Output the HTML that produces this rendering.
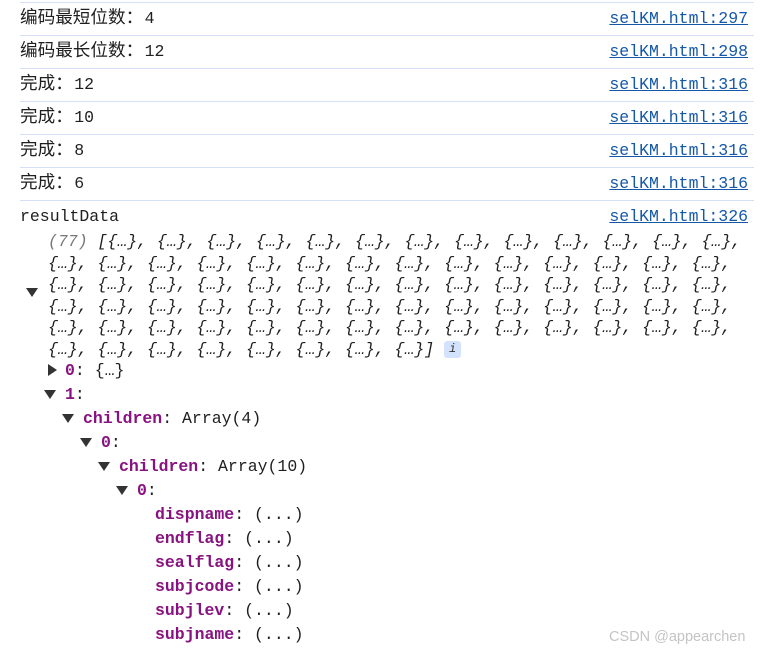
<!DOCTYPE html>
<html><head><meta charset="utf-8"><style>
body{margin:0;width:771px;height:650px;background:#fff;position:relative;overflow:hidden;font-family:"Liberation Mono","Noto Sans CJK SC",monospace;font-size:16.5px;color:#1f1f1f}
.a{position:absolute;white-space:pre;line-height:20px}
.ln{position:absolute;left:20px;width:734px;height:1px;background:#d3e0f5}
.lk{position:absolute;right:23px;color:#1558a8;text-decoration:underline;white-space:pre;line-height:20px}
.z{font-size:17.6px}
.c{display:inline-block;width:19px}
.arr{font-style:italic}
.g{color:#777}
.k{color:#881280;font-weight:bold}
.t{position:absolute;width:0;height:0;border-left:6px solid transparent;border-right:6px solid transparent;border-top:9px solid #333}
.r{position:absolute;width:0;height:0;border-top:6px solid transparent;border-bottom:6px solid transparent;border-left:9px solid #333}
.i{display:inline-block;width:17px;height:17px;background:#d3e3fd;border-radius:3px;font-size:12px;line-height:17px;text-align:center;font-style:italic;vertical-align:middle;color:#333}
</style></head><body>
<div class="ln" style="top:2px"></div>
<div class="ln" style="top:35px"></div>
<div class="ln" style="top:68px"></div>
<div class="ln" style="top:101px"></div>
<div class="ln" style="top:134px"></div>
<div class="ln" style="top:167px"></div>
<div class="ln" style="top:200px"></div>
<div class="a" style="left:20px;top:9px"><span class="z">编码最短位数<span class="c">：</span></span>4</div>
<div class="a" style="left:20px;top:42px"><span class="z">编码最长位数<span class="c">：</span></span>12</div>
<div class="a" style="left:20px;top:75px"><span class="z">完成<span class="c">：</span></span>12</div>
<div class="a" style="left:20px;top:108px"><span class="z">完成<span class="c">：</span></span>10</div>
<div class="a" style="left:20px;top:141px"><span class="z">完成<span class="c">：</span></span>8</div>
<div class="a" style="left:20px;top:174px"><span class="z">完成<span class="c">：</span></span>6</div>
<div class="a" style="left:20px;top:207px">resultData</div>
<div class="lk" style="top:9px">selKM.html:297</div>
<div class="lk" style="top:42px">selKM.html:298</div>
<div class="lk" style="top:75px">selKM.html:316</div>
<div class="lk" style="top:108px">selKM.html:316</div>
<div class="lk" style="top:141px">selKM.html:316</div>
<div class="lk" style="top:174px">selKM.html:316</div>
<div class="lk" style="top:207px">selKM.html:326</div>
<div class="t" style="left:26px;top:288px"></div>
<div class="a arr" style="left:48px;top:231px;line-height:21.6px"><span class="g">(77)</span> [{…}, {…}, {…}, {…}, {…}, {…}, {…}, {…}, {…}, {…}, {…}, {…}, {…},
{…}, {…}, {…}, {…}, {…}, {…}, {…}, {…}, {…}, {…}, {…}, {…}, {…}, {…},
{…}, {…}, {…}, {…}, {…}, {…}, {…}, {…}, {…}, {…}, {…}, {…}, {…}, {…},
{…}, {…}, {…}, {…}, {…}, {…}, {…}, {…}, {…}, {…}, {…}, {…}, {…}, {…},
{…}, {…}, {…}, {…}, {…}, {…}, {…}, {…}, {…}, {…}, {…}, {…}, {…}, {…},
{…}, {…}, {…}, {…}, {…}, {…}, {…}, {…}] <span class="i">i</span></div>
<div class="r" style="left:48px;top:364px"></div>
<div class="a" style="left:65px;top:361px"><span class="k">0</span>: {…}</div>
<div class="t" style="left:44px;top:390px"></div>
<div class="a" style="left:65px;top:385px"><span class="k">1</span>:</div>
<div class="t" style="left:62px;top:414px"></div>
<div class="a" style="left:83px;top:409px"><span class="k">children</span>: Array(4)</div>
<div class="t" style="left:80px;top:438px"></div>
<div class="a" style="left:101px;top:433px"><span class="k">0</span>:</div>
<div class="t" style="left:98px;top:462px"></div>
<div class="a" style="left:119px;top:457px"><span class="k">children</span>: Array(10)</div>
<div class="t" style="left:116px;top:486px"></div>
<div class="a" style="left:137px;top:481px"><span class="k">0</span>:</div>
<div class="a" style="left:155px;top:505px"><span class="k">dispname</span>: (...)</div>
<div class="a" style="left:155px;top:529px"><span class="k">endflag</span>: (...)</div>
<div class="a" style="left:155px;top:553px"><span class="k">sealflag</span>: (...)</div>
<div class="a" style="left:155px;top:577px"><span class="k">subjcode</span>: (...)</div>
<div class="a" style="left:155px;top:601px"><span class="k">subjlev</span>: (...)</div>
<div class="a" style="left:155px;top:625px"><span class="k">subjname</span>: (...)</div>
<div class="a" style="left:609px;top:627px;font-family:'Liberation Sans',sans-serif;font-size:14.5px;color:#c4c4c4">CSDN @appearchen</div>
</body></html>
